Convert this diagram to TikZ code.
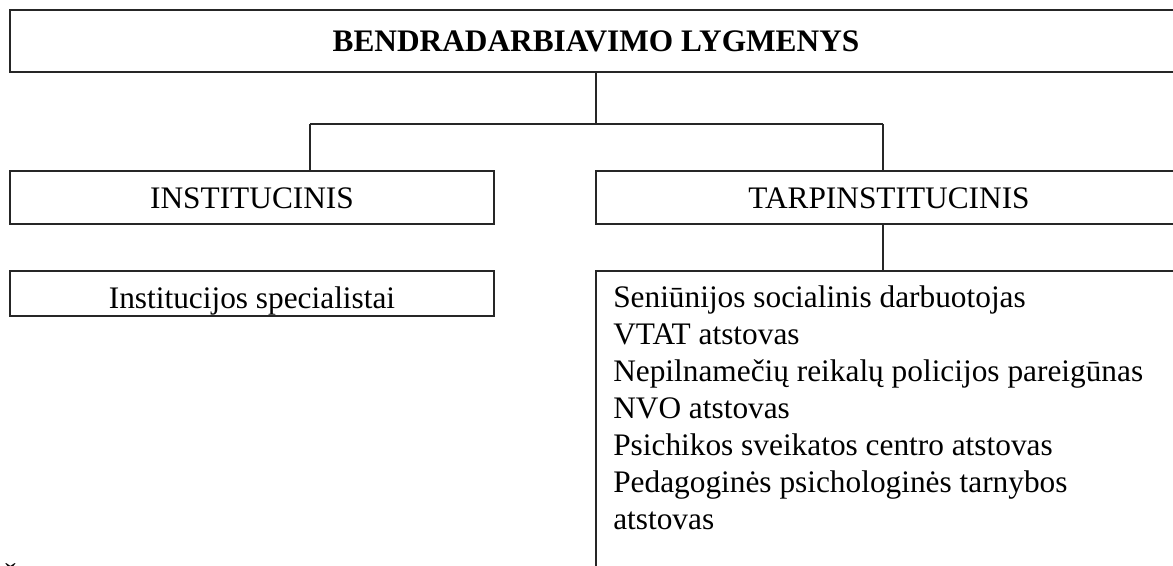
\documentclass[tikz,border=0pt]{standalone}
\usepackage{fontspec}
\setmainfont{Liberation Serif}
\begin{document}
\begin{tikzpicture}[x=0.75pt,y=-0.75pt,
  lbl/.style={font=\fontsize{23.5}{27.75}\selectfont},
  box/.style={lbl, draw=black!85, line width=0.8pt, rectangle, inner sep=0pt},
  conn/.style={draw=black!85, line width=0.8pt}]
\useasboundingbox (0,0) rectangle (1173,566);
\begin{scope}
\clip (0,0) rectangle (1173,566);
\node[box, minimum width=879pt, minimum height=46.5pt, text height=15.75pt, text depth=0pt,
      font=\fontsize{23.5}{27.75}\selectfont\bfseries] (top) at (596,41) {BENDRADARBIAVIMO LYGMENYS};
\node[box, minimum width=363pt, minimum height=39.75pt, text height=16.5pt, text depth=0pt] (lm) at (252,197.5) {INSTITUCINIS};
\node[box, minimum width=439.5pt, minimum height=39.75pt, text height=16.5pt, text depth=0pt] (rm) at (889,197.5) {TARPINSTITUCINIS};
\node[box, minimum width=363pt, minimum height=33.75pt, text height=23.25pt, text depth=0pt] (lb) at (252,293.5) {Institucijos specialistai};
\node[box, minimum width=439.5pt, minimum height=261.75pt] (rb) at (889,445.5) {};
\node[lbl, align=left, inner sep=0pt, anchor=north west] (rbtext) at (613,281.1)
  {\strut Seniūnijos socialinis darbuotojas\\
   VTAT atstovas\\
   Nepilnamečių reikalų policijos pareigūnas\\
   NVO atstovas\\
   Psichikos sveikatos centro atstovas\\
   Pedagoginės psichologinės tarnybos\\
   atstovas};
\coordinate (jl) at (310,124);
\coordinate (jr) at (883,124);
\draw[conn] (top.south) -- (top.south |- jl);
\draw[conn] (jl) -- (jr);
\draw[conn] (jl) -- (jl |- lm.north);
\draw[conn] (jr) -- (jr |- rm.north);
\draw[conn] (rm.south -| jr) -- (rb.north -| jr);
\node[lbl, inner sep=0pt, anchor=base west] (next) at (1,590) {Š};
\end{scope}
\end{tikzpicture}
\end{document}
